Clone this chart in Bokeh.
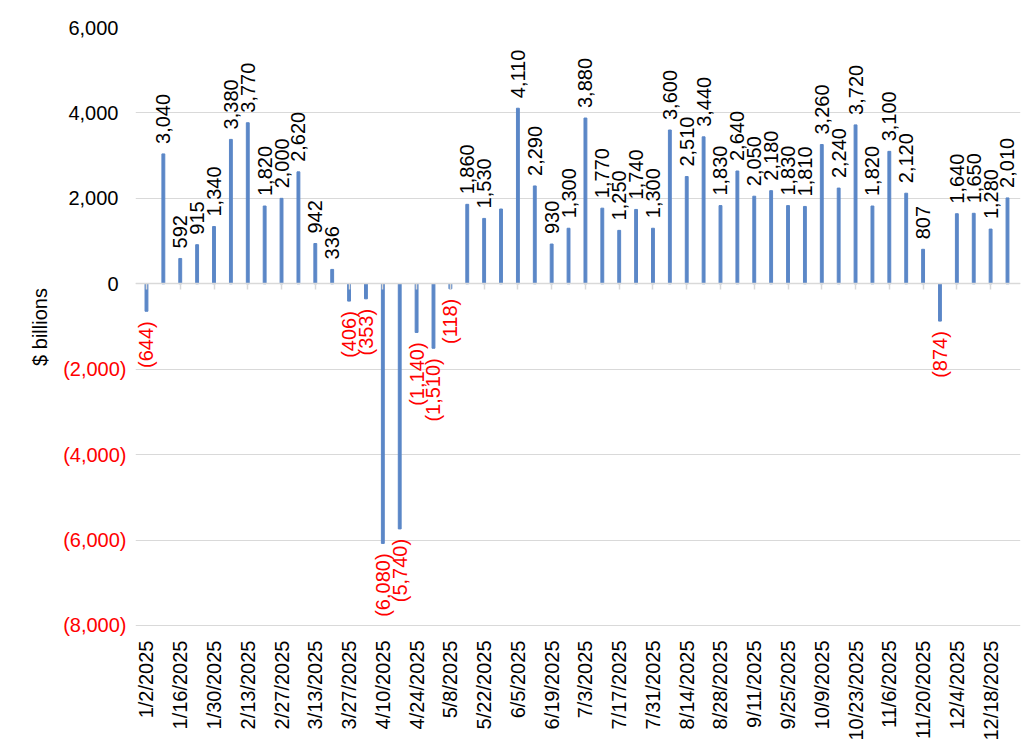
import math
import pandas as pd
from bokeh.plotting import figure
from bokeh.models import ColumnDataSource, FixedTicker, LabelSet, LinearAxis, Range1d
from bokeh.core.properties import value
from bokeh.embed import file_html
from bokeh.resources import INLINE

# ---- data ----
week_dates = [f"{d.month}/{d.day}/{d.year}" for d in pd.date_range("2025-01-02", periods=52, freq="7D")]
values = [-644, 3040, 592, 915, 1340, 3380, 3770, 1820, 2000, 2620, 942, 336,
          -406, -353, -6080, -5740, -1140, -1510, -118, 1860, 1530, 1750, 4110,
          2290, 930, 1300, 3880, 1770, 1250, 1740, 1300, 3600, 2510, 3440, 1830,
          2640, 2050, 2180, 1830, 1810, 3260, 2240, 3720, 1820, 3100, 2120, 807,
          -874, 1640, 1650, 1280, 2010]
hidden_labels = ["5/29/2025"]
y_ticks = [-8000, -6000, -4000, -2000, 0, 2000, 4000, 6000]
y_axis_title = "$ billions"

FONT = "Liberation Sans"
FS = "20px"
BAR_COLOR = "#5b87c7"
GRID = "#d9d9d9"

def fmt(v):
    return f"{v:,}" if v >= 0 else f"({-v:,})"

idx = list(range(len(values)))
tick_idx = idx[::2]
neg_ticks = [t for t in y_ticks if t < 0]
pos_ticks = [t for t in y_ticks if t >= 0]

x_start, x_end = -0.65, 51.77
p = figure(width=1021, height=748, x_range=Range1d(x_start, x_end),
           y_range=Range1d(y_ticks[0] - 25, y_ticks[-1]),
           output_backend="svg", toolbar_location=None,
           min_border_left=135, min_border_right=1, min_border_top=27,
           min_border_bottom=122)
p.outline_line_color = None
p.background_fill_color = "white"

# bars
src = ColumnDataSource(dict(x=idx, v=values))
p.vbar(x="x", top="v", bottom=0, width=0.17, color=BAR_COLOR, source=src)

# data labels
pos = [(i, v) for i, v in zip(idx, values) if v >= 0 and week_dates[i] not in hidden_labels]
neg = [(i, v) for i, v in zip(idx, values) if v < 0 and week_dates[i] not in hidden_labels]
pos_src = ColumnDataSource(dict(x=[a for a, _ in pos], y=[b for _, b in pos], t=[fmt(b) for _, b in pos]))
neg_src = ColumnDataSource(dict(x=[a for a, _ in neg], y=[b for _, b in neg], t=[fmt(b) for _, b in neg]))
p.add_layout(LabelSet(x="x", y="y", text="t", source=pos_src, angle=math.pi / 2,
                      text_align="left", text_baseline="middle", y_offset=10,
                      text_font=value(FONT), text_font_size=value(FS), text_color="black"))
p.add_layout(LabelSet(x="x", y="y", text="t", source=neg_src, angle=math.pi / 2,
                      text_align="right", text_baseline="middle", y_offset=-10,
                      text_font=value(FONT), text_font_size=value(FS), text_color="red"))

# x axis (labels at bottom)
xa = p.xaxis[0]
xa.ticker = FixedTicker(ticks=tick_idx)
xa.major_label_overrides = {i: week_dates[i] for i in tick_idx}
xa.axis_line_color = None
xa.major_tick_line_color = None
xa.minor_tick_line_color = None
xa.major_tick_out = 0
xa.major_tick_in = 0
xa.major_label_standoff = 14
xa.major_label_orientation = math.pi / 2
xa.major_label_text_font = FONT
xa.major_label_text_font_size = FS
xa.major_label_text_color = "black"

# zero line axis with ticks pointing down
za = LinearAxis(fixed_location=0, ticker=FixedTicker(ticks=tick_idx),
                major_label_overrides={i: "" for i in tick_idx},
                major_label_text_font_size="1px",
                axis_line_color=GRID, axis_line_width=1.5,
                major_tick_line_color=GRID, major_tick_line_width=1.5,
                major_tick_in=6, major_tick_out=0,
                minor_tick_line_color=None, major_label_standoff=0)
p.add_layout(za, "above")

# inner y axis: negative labels in red
ra = p.yaxis[0]
ra.ticker = FixedTicker(ticks=neg_ticks)
ra.major_label_overrides = {t: fmt(t) for t in neg_ticks}
ra.axis_line_color = None
ra.major_tick_line_color = None
ra.minor_tick_line_color = None
ra.major_tick_out = 0
ra.major_tick_in = 0
ra.major_label_standoff = 9
ra.major_label_text_font = FONT
ra.major_label_text_font_size = FS
ra.major_label_text_color = "red"

# outer y axis: positive labels in black, pulled back next to the frame
ya = LinearAxis(ticker=FixedTicker(ticks=pos_ticks),
                major_label_overrides={t: fmt(t) for t in pos_ticks},
                axis_line_color=None, major_tick_line_color=None,
                minor_tick_line_color=None, major_tick_out=0, major_tick_in=0,
                major_label_standoff=-58, major_label_text_font=FONT,
                major_label_text_font_size=FS, major_label_text_color="black",
                axis_label=y_axis_title, axis_label_text_font=FONT,
                axis_label_text_font_size=FS, axis_label_text_font_style="normal",
                axis_label_text_color="black", axis_label_standoff=14)
p.add_layout(ya, "left")

p.xgrid.visible = False
p.ygrid.ticker = FixedTicker(ticks=y_ticks)
p.ygrid.grid_line_color = GRID
p.ygrid.grid_line_width = 1

open("out.html", "w").write(file_html(p, INLINE))
